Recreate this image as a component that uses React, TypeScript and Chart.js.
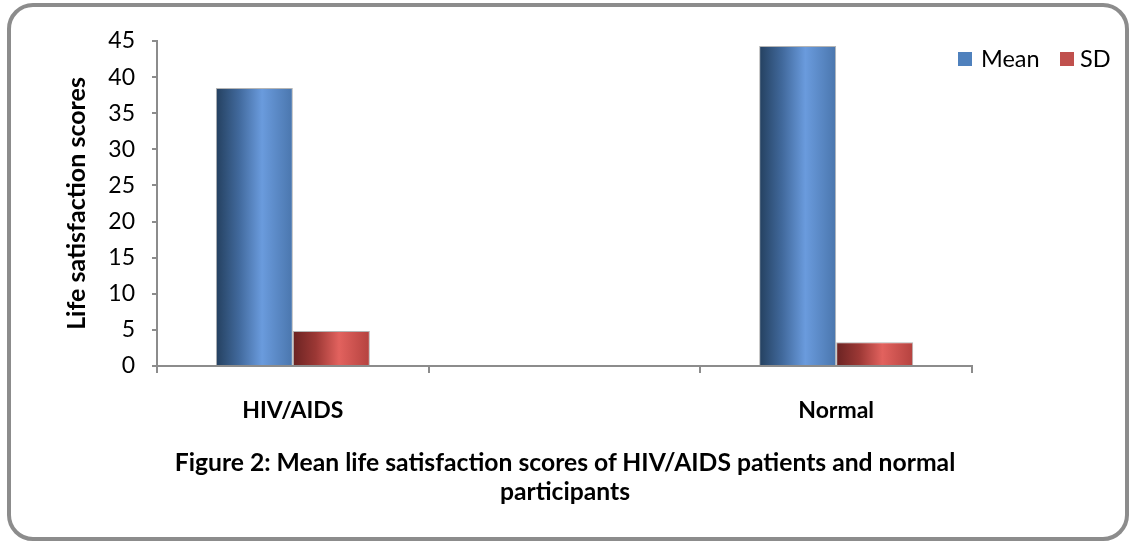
import React, { useEffect, useRef } from "react";
import { Chart, registerables } from "chart.js";

Chart.register(...registerables);

const categories = ["HIV/AIDS", "", "Normal"];
const meanValues = [38.5, null, 44.3];
const sdValues = [4.85, null, 3.3];
const seriesNames = ["Mean", "SD"];
const yMin = 0;
const yMax = 45;
const yStep = 5;
const titleLines = [
  "Figure 2: Mean life satisfaction scores of HIV/AIDS patients and normal",
  "participants",
];
const yTitle = "Life satisfaction scores";

const BLUE_STOPS: [number, string][] = [
  [0, "#24405f"],
  [0.3, "#41699c"],
  [0.6, "#6a9bdd"],
  [1, "#4a76ad"],
];
const RED_STOPS: [number, string][] = [
  [0, "#6a2322"],
  [0.3, "#9c3835"],
  [0.6, "#e2625e"],
  [1, "#b4423f"],
];

const gradientPlugin = {
  id: "barGradient",
  beforeDatasetsDraw(chart: any) {
    const ctx = chart.ctx;
    chart.data.datasets.forEach((_ds: any, di: number) => {
      const meta = chart.getDatasetMeta(di);
      const stops = di === 0 ? BLUE_STOPS : RED_STOPS;
      meta.data.forEach((el: any) => {
        if (!isFinite(el.x) || !isFinite(el.width) || !el.width) return;
        const left = el.x - el.width / 2;
        const g = ctx.createLinearGradient(left, 0, left + el.width, 0);
        stops.forEach(([o, c]) => g.addColorStop(o, c));
        el.options = Object.assign({}, el.options, { backgroundColor: g });
      });
    });
  },
};

export default function App() {
  const ref = useRef<HTMLCanvasElement | null>(null);

  useEffect(() => {
    if (!ref.current) return;
    Chart.defaults.font.family = "Lato, sans-serif";
    const chart = new Chart(ref.current, {
      type: "bar",
      data: {
        labels: categories,
        datasets: [
          {
            label: seriesNames[0],
            data: meanValues,
            backgroundColor: "#4f81bd",
            borderColor: "rgba(150,150,150,0.7)",
            borderWidth: 1,
            categoryPercentage: 0.567,
            barPercentage: 1,
          },
          {
            label: seriesNames[1],
            data: sdValues,
            backgroundColor: "#c0504d",
            borderColor: "rgba(150,150,150,0.7)",
            borderWidth: 1,
            categoryPercentage: 0.567,
            barPercentage: 1,
          },
        ],
      },
      options: {
        responsive: false,
        animation: false,
        layout: { padding: { left: 57, top: 41, right: 158, bottom: 118 } },
        plugins: {
          legend: { display: false },
          tooltip: { enabled: false },
          title: { display: false },
        },
        scales: {
          x: {
            grid: {
              drawOnChartArea: false,
              drawTicks: true,
              tickLength: 7,
              color: "#8c8c8c",
              lineWidth: 2,
              offset: true,
            },
            border: { color: "#8c8c8c", width: 2 },
            ticks: {
              color: "#000",
              font: { size: 23, weight: "bold" },
              padding: 24,
              maxRotation: 0,
              autoSkip: false,
            },
            afterFit: (s: any) => {
              s.height = 60;
            },
          },
          y: {
            min: yMin,
            max: yMax,
            grid: {
              drawOnChartArea: false,
              drawTicks: true,
              tickLength: 5,
              color: "#8c8c8c",
              lineWidth: 2,
            },
            border: { color: "#8c8c8c", width: 2 },
            ticks: {
              stepSize: yStep,
              color: "#000",
              font: { size: 23 },
              padding: 17,
            },
            title: {
              display: true,
              text: yTitle,
              color: "#000",
              font: { size: 25, weight: "bold", lineHeight: 1.2 },
              padding: { top: 5, bottom: 0 },
            },
            afterFit: (s: any) => {
              s.width = 100;
            },
          },
        },
      },
      plugins: [gradientPlugin],
    });
    if ((document as any).fonts && (document as any).fonts.ready) {
      (document as any).fonts.ready.then(() => chart.update());
    }
    return () => chart.destroy();
  }, []);

  const legendText: React.CSSProperties = {
    position: "absolute",
    fontFamily: "Lato, sans-serif",
    fontSize: 23.5,
    lineHeight: "26px",
    color: "#000",
    top: 45,
    whiteSpace: "nowrap",
  };

  const titleStyle: React.CSSProperties = {
    position: "absolute",
    left: 0,
    width: 1130,
    textAlign: "center",
    fontFamily: "Lato, sans-serif",
    fontWeight: "bold",
    fontSize: 24.7,
    lineHeight: "29px",
    color: "#000",
    whiteSpace: "nowrap",
  };

  return (
    <div
      style={{
        position: "fixed",
        left: 0,
        top: 0,
        width: 1130,
        height: 544,
        background: "#fff",
        overflow: "hidden",
      }}
    >
      <div
        style={{
          position: "absolute",
          left: 7,
          top: 3,
          width: 1122,
          height: 538,
          border: "4px solid #8c8c8c",
          borderRadius: 26,
          boxSizing: "border-box",
        }}
      />
      <canvas
        ref={ref}
        width={1130}
        height={544}
        style={{ position: "absolute", left: 0, top: 0, width: 1130, height: 544 }}
      />
      <div style={{ position: "absolute", left: 958, top: 52, width: 14, height: 14, background: "#4f81bd" }} />
      <div style={{ ...legendText, left: 981 }}>{seriesNames[0]}</div>
      <div style={{ position: "absolute", left: 1060, top: 52, width: 14, height: 14, background: "#c0504d" }} />
      <div style={{ ...legendText, left: 1080 }}>{seriesNames[1]}</div>
      <div style={{ ...titleStyle, top: 447 }}>{titleLines[0]}</div>
      <div style={{ ...titleStyle, top: 476 }}>{titleLines[1]}</div>
    </div>
  );
}
